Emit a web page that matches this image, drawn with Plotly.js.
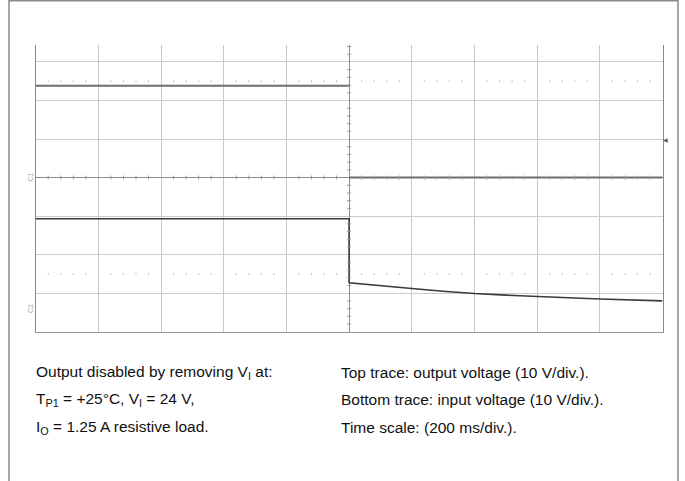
<!DOCTYPE html>
<html>
<head>
<meta charset="utf-8">
<script src="https://cdn.plot.ly/plotly-3.0.1.min.js"></script>
<style>html,body{margin:0;padding:0;background:#fff;}#chart{width:685px;height:481px;}</style>
</head>
<body>
<div id="chart"></div>
<script>
// ---- data (time in ms, voltages in V) ----
const ch1Time = [-1000, 0, null, 0, 1000];
const ch1Volts = [23.8, 23.8, null, 0, 0];           // top trace: output voltage
const ch2Time = [-1000, 0, 0, 100, 200, 300, 400, 500, 600, 700, 800, 900, 1000];
const ch2Volts = [23.4, 23.4, 6.8, 6.0, 5.3, 4.6, 4.0, 3.6, 3.2, 2.9, 2.6, 2.35, 2.1]; // bottom trace: input voltage
const voltsPerDiv = 10;
const msPerDiv = 200;
const ch2GroundDiv = -3.41;   // channel-2 ground marker position (divisions from centre)
const divTop = 3.44, divBottom = -4;
const noteLeft = [
  "Output disabled by removing V<sub>I</sub> at:",
  "T<sub>P1</sub> = +25°C, V<sub>I</sub> = 24 V,",
  "I<sub>O</sub> = 1.25 A resistive load."
];
const noteRight = [
  "Top trace: output voltage (10 V/div.).",
  "Bottom trace: input voltage (10 V/div.).",
  "Time scale: (200 ms/div.)."
];

// ---- layout geometry ----
const W = 685, H = 481;
const px = v => v / W, py = v => 1 - v / H;
const xDom = [px(35.7), px(662.5)];
const yDom = [py(331.7), py(45)];

const y1Range = [divBottom * voltsPerDiv, divTop * voltsPerDiv];
const y2Range = [(divBottom - ch2GroundDiv) * voltsPerDiv, (divTop - ch2GroundDiv) * voltsPerDiv];

// graticule minor ticks (decoration)
const pxPerDivX = (662.5 - 35.7) / 10, pxPerDivY = (331.7 - 45) / (divTop - divBottom);
const hx = 2 / pxPerDivX * msPerDiv, hy = 2 / pxPerDivY * voltsPerDiv;
let pCenterH = "", pCenterV = "", pRows = "";
for (let i = -25; i <= 25; i++) {
  const t = i * msPerDiv / 5;
  if (i % 5 !== 0) {
    pCenterH += `M${t},${-hy}L${t},${hy}`;
    [25, -25].forEach(v => { pRows += `M${t},${v - hy*0.5}L${t},${v + hy*0.5}`; });
  }
}
for (let j = Math.ceil(divBottom * 5); j <= Math.floor(divTop * 5); j++) {
  const v = j * voltsPerDiv / 5;
  if (j % 5 !== 0) pCenterV += `M${-hx},${v}L${hx},${v}`;
}

const shapes = [
  {type: 'rect', xref: 'paper', yref: 'paper', x0: px(9), x1: px(678), y0: -0.05, y1: py(0.8),
   line: {color: '#8a8a8a', width: 1.5}, fillcolor: 'rgba(0,0,0,0)'},
  {type: 'path', xref: 'x', yref: 'y', path: pCenterH, line: {color: '#9a9a9a', width: 1}},
  {type: 'path', xref: 'x', yref: 'y', path: pCenterV, line: {color: '#9a9a9a', width: 1}},
  {type: 'path', xref: 'x', yref: 'y', path: pRows, line: {color: '#c4c4c4', width: 1}}
];

const txtFont = {family: 'Liberation Sans, Arial, sans-serif', size: 15.5, color: '#111'};
const annotations = [];
noteLeft.forEach((t, i) => annotations.push({
  xref: 'paper', yref: 'paper', x: px(34), y: py(372 + i * 27.5), xanchor: 'left', yanchor: 'middle',
  text: t, showarrow: false, font: txtFont
}));
noteRight.forEach((t, i) => annotations.push({
  xref: 'paper', yref: 'paper', x: px(339), y: py(372 + i * 27.5), xanchor: 'left', yanchor: 'middle',
  text: t, showarrow: false, font: txtFont
}));
annotations.push({xref: 'paper', yref: 'y', x: px(31), y: 0, text: 'C1', textangle: -90, showarrow: false,
  font: {family: 'Liberation Sans, Arial', size: 7, color: '#aaa'}, xanchor: 'center', yanchor: 'middle'});
annotations.push({xref: 'paper', yref: 'y2', x: px(31), y: 0, text: 'C2', textangle: -90, showarrow: false,
  font: {family: 'Liberation Sans, Arial', size: 7, color: '#aaa'}, xanchor: 'center', yanchor: 'middle'});
annotations.push({xref: 'paper', yref: 'y', x: px(665), y: 10, text: '◀', showarrow: false,
  font: {family: 'DejaVu Sans', size: 6, color: '#555'}, xanchor: 'center', yanchor: 'middle'});

const traces = [
  {x: ch1Time, y: ch1Volts, xaxis: 'x', yaxis: 'y', mode: 'lines', connectgaps: false,
   line: {color: '#6e6e6e', width: 2}, hoverinfo: 'skip'},
  {x: ch2Time, y: ch2Volts, xaxis: 'x', yaxis: 'y2', mode: 'lines',
   line: {color: '#3a3a3a', width: 1.6}, hoverinfo: 'skip'}
];

const layout = {
  width: W, height: H, margin: {l: 0, r: 0, t: 0, b: 0},
  paper_bgcolor: '#fff', plot_bgcolor: '#fff', showlegend: false,
  xaxis: {domain: xDom, range: [-5 * msPerDiv, 5 * msPerDiv], dtick: msPerDiv, tick0: 0,
    showgrid: true, gridcolor: '#c8c8c8', gridwidth: 1, zeroline: true, zerolinecolor: '#8c8c8c', zerolinewidth: 1,
    showticklabels: false, ticks: '', showline: true, linecolor: '#9a9a9a', linewidth: 1, fixedrange: true},
  yaxis: {domain: yDom, range: y1Range, dtick: voltsPerDiv, tick0: 0,
    showgrid: true, gridcolor: '#cccccc', gridwidth: 1, zeroline: true, zerolinecolor: '#8c8c8c', zerolinewidth: 1,
    showticklabels: false, ticks: '', showline: true, mirror: true, linecolor: '#8a8a8a', linewidth: 1, fixedrange: true},
  yaxis2: {domain: yDom, range: y2Range, overlaying: 'y', visible: false, showgrid: false, zeroline: false, fixedrange: true},
  shapes: shapes, annotations: annotations
};

Plotly.newPlot('chart', traces, layout, {staticPlot: true, displayModeBar: false});
</script>
</body>
</html>
